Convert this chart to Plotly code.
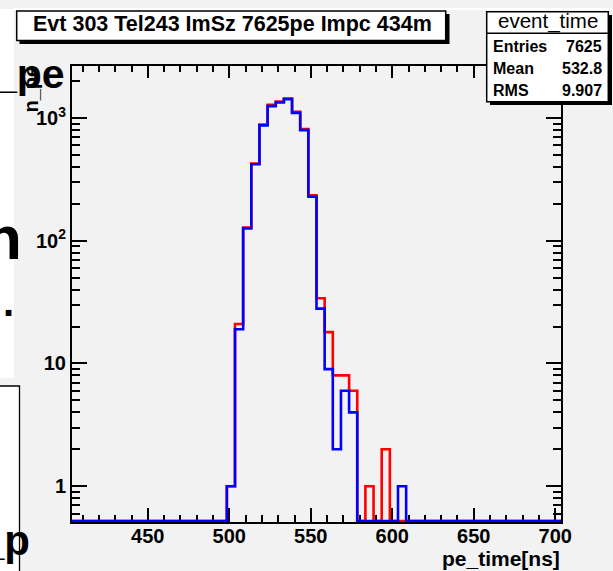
import numpy as np
import plotly.graph_objects as go

# ---------------- data ----------------
bin_start = 403.5
bin_width = 5.0
n_bins = 60
# counts per bin (bins starting at 403.5, width 5 ns)
red_counts = [0] * 19 + [1, 21, 128, 425, 885, 1278, 1362, 1441, 1121, 811, 234,
                         34, 18, 8, 8, 6, 0, 1, 0, 2, 0, 0] + [0] * 19
blue_counts = [0] * 19 + [1, 19, 126, 419, 869, 1247, 1337, 1422, 1100, 796, 228,
                          28, 9, 2, 6, 4, 0, 0, 0, 0, 0, 1] + [0] * 19

x_tick_vals = [450, 500, 550, 600, 650, 700]
x_minor_vals = [v for v in range(410, 701, 10) if v % 50 != 0]
y_tick_vals = [1, 10, 100, 1000]
y_tick_text = ["1", "10", "10<sup>2</sup>", "10<sup>3</sup>"]
y_minor_vals = [0.6, 0.7, 0.8, 0.9] + [m * 10 ** e for e in range(0, 3) for m in range(2, 10)] + [2000]

title_text = "Evt 303 Tel243 ImSz 7625pe Impc 434m"
stats_title = "event_time"
stats_rows = [("Entries", "7625"), ("Mean", "532.8"), ("RMS", "9.907")]
x_title = "pe_time[ns]"
y_title = "n_pe"

# ---------------- layout geometry ----------------
W, H = 613, 571
L, R, T, B = 72, 52, 66, 49
PW, PH = W - L - R, H - T - B
x_range = [403.5, 703.5]
y_range = [-0.291, 3.423]


def px(x):
    return (x - L) / PW


def py(y):
    return (H - B - y) / PH


edges = bin_start + bin_width * np.arange(n_bins + 1)
floor_val = 10 ** (y_range[0] + 0.007)


def step_y(counts):
    c = [v if v > 0 else floor_val for v in counts]
    return c + [c[-1]]


fig = go.Figure()
fig.add_trace(go.Scatter(x=edges, y=step_y(red_counts), mode="lines", line_shape="hv",
                         line=dict(color="#ff0000", width=2.6), hoverinfo="skip", showlegend=False))
fig.add_trace(go.Scatter(x=edges, y=step_y(blue_counts), mode="lines", line_shape="hv",
                         line=dict(color="#0000ff", width=2.6), hoverinfo="skip", showlegend=False))
# dummy trace for mirrored axes
fig.add_trace(go.Scatter(x=[edges[0]], y=[1], xaxis="x2", yaxis="y2", mode="markers",
                         marker=dict(opacity=0), hoverinfo="skip", showlegend=False))

FONT = "Liberation Sans, Arial, Helvetica, sans-serif"
axis_common = dict(showgrid=False, zeroline=False, showline=True, linecolor="black", linewidth=2,
                   ticks="inside", tickcolor="black", tickwidth=2, layer="below traces")

fig.update_layout(
    width=W, height=H,
    margin=dict(l=L, r=R, t=T, b=B, pad=0),
    paper_bgcolor="#f2f2f2", plot_bgcolor="#f2f2f2",
    font=dict(family=FONT, color="black"),
    showlegend=False,
    xaxis=dict(range=x_range, tickmode="array", tickvals=x_tick_vals, ticklen=14,
               tickfont=dict(size=20, family=FONT, weight="bold"), ticklabelstandoff=-5,
               minor=dict(tickmode="array", tickvals=x_minor_vals, ticks="inside", ticklen=7,
                          tickwidth=2, tickcolor="black"),
               **axis_common),
    yaxis=dict(type="log", range=y_range, tickmode="array", tickvals=y_tick_vals,
               ticktext=y_tick_text, ticklen=15,
               tickfont=dict(size=20, family=FONT, weight="bold"),
               minor=dict(tickmode="array", tickvals=y_minor_vals, ticks="inside", ticklen=8,
                          tickwidth=2, tickcolor="black"),
               **axis_common),
    xaxis2=dict(range=x_range, overlaying="x", side="top", anchor="y2", tickmode="array",
                tickvals=x_tick_vals, ticklen=12, showticklabels=False,
                minor=dict(tickmode="array", tickvals=x_minor_vals, ticks="inside", ticklen=6,
                           tickwidth=2, tickcolor="black"),
                **axis_common),
    yaxis2=dict(type="log", range=y_range, overlaying="y", side="right", anchor="x2",
                tickmode="array", tickvals=y_tick_vals, ticklen=15, showticklabels=False,
                minor=dict(tickmode="array", tickvals=y_minor_vals, ticks="inside", ticklen=8,
                           tickwidth=2, tickcolor="black"),
                **axis_common),
)

shapes = []
# neighbouring pad fragments on the left
shapes.append(dict(type="rect", xref="paper", yref="paper", x0=px(-5), x1=px(14), y0=py(378), y1=py(9),
                   fillcolor="white", line=dict(width=0), layer="below"))
shapes.append(dict(type="line", xref="paper", yref="paper", x0=px(14), x1=px(620), y0=py(9), y1=py(9),
                   line=dict(color="white", width=2), layer="below"))
shapes.append(dict(type="rect", xref="paper", yref="paper", x0=px(-5), x1=px(19.5), y0=py(580), y1=py(386),
                   fillcolor="white", line=dict(color="black", width=1.3), layer="below"))
# title box with shadow
shapes.append(dict(type="rect", xref="paper", yref="paper", x0=px(19.5), x1=px(449.5), y0=py(44), y1=py(14),
                   fillcolor="black", line=dict(width=0), layer="above"))
shapes.append(dict(type="rect", xref="paper", yref="paper", x0=px(16.7), x1=px(445.7), y0=py(40.5), y1=py(11),
                   fillcolor="white", line=dict(color="black", width=1.5), layer="above"))
# stats box with shadow
shapes.append(dict(type="rect", xref="paper", yref="paper", x0=px(490), x1=px(612), y0=py(105), y1=py(15),
                   fillcolor="black", line=dict(width=0), layer="above"))
shapes.append(dict(type="rect", xref="paper", yref="paper", x0=px(486.7), x1=px(608.3), y0=py(101.7), y1=py(11.7),
                   fillcolor="white", line=dict(color="black", width=1.5), layer="above"))
shapes.append(dict(type="line", xref="paper", yref="paper", x0=px(486.7), x1=px(608.3), y0=py(33.3), y1=py(33.3),
                   line=dict(color="black", width=1.5), layer="above"))
fig.update_layout(shapes=shapes)

ann = []


def add_text(text, x, y, size, xanchor="left", yanchor="middle", bold=False, angle=0):
    ann.append(dict(text=(f"<b>{text}</b>" if bold else text), xref="paper", yref="paper",
                    x=px(x), y=py(y), xanchor=xanchor, yanchor=yanchor, showarrow=False,
                    textangle=angle, font=dict(size=size, family=FONT, color="black")))


add_text(title_text, 232, 24, 21.5, xanchor="center", bold=True)
add_text(stats_title, 547.5, 20.5, 20.5, xanchor="center")
for i, (k, v) in enumerate(stats_rows):
    yy = 46 + i * 22.4
    add_text(k, 491, yy, 16, bold=True)
    add_text(v, 604, yy, 16, xanchor="right", bold=True)
add_text(x_title, 562, 558, 21, xanchor="right", bold=True)
add_text(y_title, 30, 64, 20, xanchor="center", yanchor="top", bold=True, angle=-90)
# fragments of neighbouring pads
add_text("_pe", 67, 74, 41, xanchor="right", bold=True)
add_text("n", 24, 237, 62, xanchor="right", bold=True)
add_text(".", 16, 302, 40, xanchor="right", bold=True)
add_text("_p", 32, 540, 42, xanchor="right", bold=True)
fig.update_layout(annotations=ann)

fig.write_html("out.html")
